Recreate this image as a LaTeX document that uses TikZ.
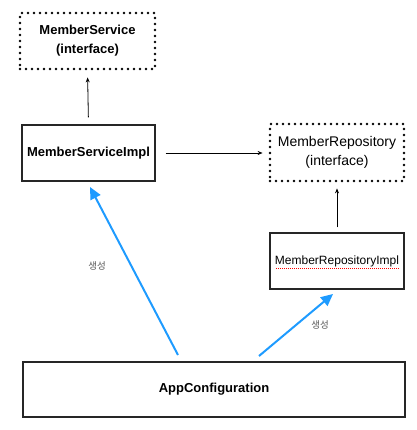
\documentclass[tikz,border=0pt]{standalone}
\usepackage{fontspec}
\setmainfont{Liberation Sans}
\newfontfamily\krfont{Noto Sans CJK KR}
\usetikzlibrary{arrows.meta}
\definecolor{arrowblue}{HTML}{1E9BFF}
\definecolor{labelgray}{HTML}{5A5A5A}
\tikzset{
  solidbox/.style={draw=black!85, line width=1.2pt, minimum height=56pt, inner sep=0pt, align=center},
  dotbox/.style={draw=black, line width=2.8pt, line cap=round, dash pattern=on 0pt off 6pt, minimum height=56pt, inner sep=0pt, align=center},
  boldtxt/.style={font=\fontsize{13}{19}\selectfont\bfseries},
  regtxt/.style={font=\fontsize{14}{19}\selectfont},
  smalltxt/.style={font=\fontsize{12}{14}\selectfont},
  thinarrow/.style={draw=black, line width=0.8pt, -{Stealth[length=5pt,width=4pt]}},
  bluearrow/.style={draw=arrowblue, line width=2pt, -{Triangle[length=12pt,width=11pt]}},
  gen/.style={font=\krfont\fontsize{9.5}{10}\selectfont, text=labelgray, inner sep=0pt}
}
\begin{document}
\begin{tikzpicture}[x=1pt,y=-1pt]
\useasboundingbox (0,0) rectangle (416,430);
\node[dotbox, boldtxt, minimum width=135pt] (ms) at (87.5,41) {MemberService\\(interface)};
\node[solidbox, boldtxt, minimum width=133pt] (msi) at (88.5,153) {MemberServiceImpl};
\node[dotbox, regtxt, minimum width=134pt, minimum height=57pt] (mr) at (337,152.5) {MemberRepository\\(interface)};
\node[solidbox, smalltxt, minimum width=134pt] (mri) at (337,261) {MemberRepositoryImpl};
\node[solidbox, boldtxt, minimum width=382pt, minimum height=55pt] (app) at (214,389.5) {AppConfiguration};
% spell-check underline
\draw[red, line width=0.5pt, dash pattern=on 1pt off 1pt] (276,268) -- (399,268);
% black arrows
\draw[thinarrow, shorten <=7pt, shorten >=7pt] (msi.north) -- (ms.south);
\draw[thinarrow, shorten <=10pt, shorten >=6pt] (msi.east) -- (msi.east -| mr.west);
\draw[thinarrow, shorten <=5pt, shorten >=6pt] (mri.north) -- (mr.south);
% blue arrows
\coordinate (s1) at (178,355);
\coordinate (t1) at (90,187);
\coordinate (s2) at (259,356);
\coordinate (t2) at (333,294);
\draw[bluearrow] (s1) -- (t1);
\draw[bluearrow] (s2) -- (t2);
\node[gen] (g1) at (97,266) {생성};
\node[gen] (g2) at (320,325) {생성};
\end{tikzpicture}
\end{document}
